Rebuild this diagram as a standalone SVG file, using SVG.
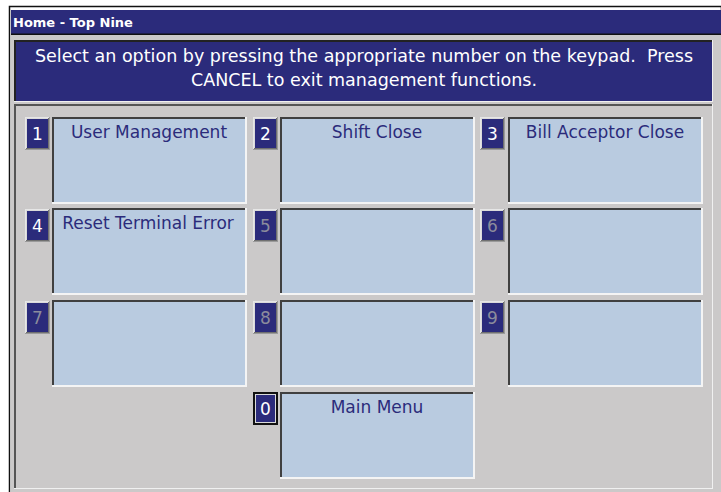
<svg xmlns="http://www.w3.org/2000/svg" width="721" height="492" viewBox="0 0 721 492">
<style>
.navy{fill:#2b2b7b}
.gray{fill:#cbc9c9}
.lbl{fill:#b9cbe0}
.dk{fill:#404040}
.wt{fill:#f4f4f4}
.t{font-family:"DejaVu Sans","Liberation Sans",sans-serif}
.msg{font-size:17.5px;fill:#ffffff;text-anchor:middle}
.lt{font-size:17px;fill:#2b2b7b;text-anchor:middle}
.num{font-size:17px;text-anchor:middle}
.on{fill:#ffffff}
.off{fill:#8c8c9c}
</style>
<defs>
<g id="nb">
<rect x="0" y="0" width="25" height="33" fill="#9a9a9a"/>
<rect x="0" y="0" width="24" height="32" fill="#e6e6e6"/>
<rect x="1" y="1" width="23" height="31" fill="#707070"/>
<rect x="1" y="1" width="22" height="30" fill="#dadada"/>
<rect x="2" y="2" width="21" height="29" class="navy"/>
</g>
<g id="nbs">
<rect x="0" y="0" width="25" height="33" fill="#111"/>
<rect x="2" y="2" width="21" height="29" fill="#dadada"/>
<rect x="3" y="3" width="19" height="27" class="navy"/>
</g>
<g id="lb">
<rect x="0" y="0" width="195" height="87" class="wt"/>
<rect x="0" y="0" width="193" height="85" class="dk"/>
<rect x="2" y="2" width="191" height="83" class="lbl"/>
</g>
</defs>
<rect x="0" y="0" width="721" height="492" fill="#ffffff"/>
<rect x="9.5" y="6.5" width="712" height="490" fill="none" stroke="#111" stroke-width="1.5"/>
<rect x="11" y="35" width="710" height="457" class="gray"/>
<g id="title">
<rect x="11" y="10" width="710" height="24" class="navy"/>
<rect x="11" y="33.5" width="710" height="1.5" fill="#111"/>
<text x="13" y="27" class="t" font-size="13" font-weight="bold" fill="#ffffff">Home - Top Nine</text>
</g>
<g id="message">
<rect x="14" y="40" width="699" height="62" fill="#f0f0f0"/>
<rect x="14" y="40" width="698" height="61" fill="#222"/>
<rect x="16" y="42" width="696" height="59" class="navy"/>
<text x="364" y="62" class="t msg">Select an option by pressing the appropriate number on the keypad.&#160; Press</text>
<text x="364" y="86" class="t msg">CANCEL to exit management functions.</text>
</g>
<g id="panel">
<rect x="14" y="104" width="699" height="385" fill="#f0f0f0"/>
<rect x="14" y="104" width="698" height="384" fill="#555"/>
<rect x="16" y="106" width="696" height="382" class="gray"/>
</g>
<g id="opt1"><use href="#nb" x="25" y="117"/><text x="37.5" y="140" class="t num on">1</text><use href="#lb" x="52" y="117"/><text x="149" y="138" class="t lt">User Management</text></g>
<g id="opt2"><use href="#nb" x="253" y="117"/><text x="265.5" y="140" class="t num on">2</text><use href="#lb" x="280" y="117"/><text x="377" y="138" class="t lt">Shift Close</text></g>
<g id="opt3"><use href="#nb" x="480" y="117"/><text x="492.5" y="140" class="t num on">3</text><use href="#lb" x="508" y="117"/><text x="605" y="138" class="t lt">Bill Acceptor Close</text></g>
<g id="opt4"><use href="#nb" x="25" y="209"/><text x="37.5" y="232" class="t num on">4</text><use href="#lb" x="52" y="208"/><text x="148" y="229" class="t lt">Reset Terminal Error</text></g>
<g id="opt5"><use href="#nb" x="253" y="209"/><text x="265.5" y="232" class="t num off">5</text><use href="#lb" x="280" y="208"/></g>
<g id="opt6"><use href="#nb" x="480" y="209"/><text x="492.5" y="232" class="t num off">6</text><use href="#lb" x="508" y="208"/></g>
<g id="opt7"><use href="#nb" x="25" y="301"/><text x="37.5" y="324" class="t num off">7</text><use href="#lb" x="52" y="300"/></g>
<g id="opt8"><use href="#nb" x="253" y="301"/><text x="265.5" y="324" class="t num off">8</text><use href="#lb" x="280" y="300"/></g>
<g id="opt9"><use href="#nb" x="480" y="301"/><text x="492.5" y="324" class="t num off">9</text><use href="#lb" x="508" y="300"/></g>
<g id="opt0"><use href="#nbs" x="253" y="392"/><text x="265.5" y="415" class="t num on">0</text><use href="#lb" x="280" y="392"/><text x="377" y="413" class="t lt">Main Menu</text></g>
</svg>
